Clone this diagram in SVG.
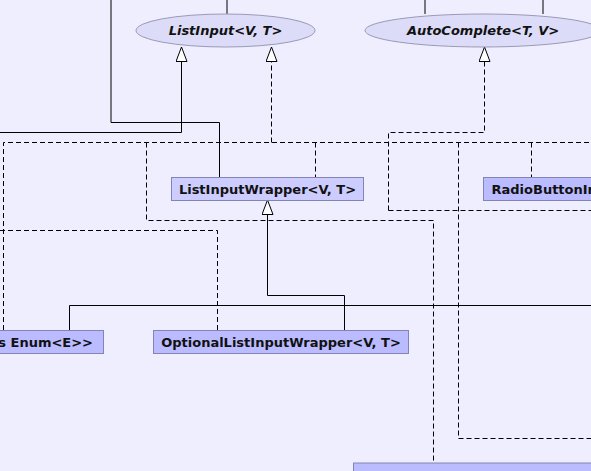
<svg xmlns="http://www.w3.org/2000/svg" width="591" height="471" viewBox="0 0 591 471">
<style>
.bg{fill:#EEEEFF}
.iface ellipse{fill:#DCDCF8;stroke:#9A9AB8;stroke-width:1}
.iface text{font-family:"DejaVu Sans",sans-serif;font-weight:bold;font-style:italic;font-size:13px;fill:#111}
.cls rect{fill:#BBBBFF;stroke:#8484B4;stroke-width:1}
.cls.light rect{fill:#CCCCFF}
.cls text{font-family:"DejaVu Sans",sans-serif;font-weight:bold;font-size:13px;fill:#111}
.solid{fill:none;stroke:#000;stroke-width:1}
.dash{fill:none;stroke:#000;stroke-width:1;stroke-dasharray:5,3}
</style>
<defs>
<marker id="tri" viewBox="0 0 15 12" refX="15" refY="6" markerWidth="15" markerHeight="12" markerUnits="userSpaceOnUse" orient="auto">
<path d="M0.5,0.5 L15,6 L0.5,11.5 z" fill="#fff" stroke="#000" stroke-width="1" stroke-dasharray="none"/>
</marker>
</defs>
<rect class="bg" x="0" y="0" width="591" height="471"/>
<g id="connectors">
<path class="solid" d="M227,0 V14"/>
<path class="solid" d="M425,0 V14"/>
<path class="solid" d="M543,0 V14"/>
<path class="solid" d="M111,0 V122.5 H219.5 V177"/>
<path class="solid" d="M0,132.5 H181.5 V47" marker-end="url(#tri)"/>
<path class="solid" d="M344.5,330 V295.5 H267.5 V200" marker-end="url(#tri)"/>
<path class="solid" d="M69.5,330 V305.5 H591"/>
<path class="dash" d="M3.5,330 V142.5 H591"/>
<path class="dash" d="M271.5,142.5 V47" marker-end="url(#tri)"/>
<path class="dash" d="M146.5,142.5 V220.5 H433.5 V463"/>
<path class="dash" d="M315.5,142.5 V177"/>
<path class="dash" d="M388.5,210.5 V132.5 H484.5 V47" marker-end="url(#tri)"/>
<path class="dash" d="M388.5,210.5 H591"/>
<path class="dash" d="M458.5,142.5 V438.5 H591"/>
<path class="dash" d="M531.5,142.5 V177"/>
<path class="dash" d="M0,230.5 H217.5 V330"/>
</g>
<g id="ListInput" class="iface">
<ellipse cx="225.5" cy="30.5" rx="89.5" ry="16.5"/>
<text x="225.5" y="35" text-anchor="middle">ListInput&lt;V, T&gt;</text>
</g>
<g id="AutoComplete" class="iface">
<ellipse cx="483" cy="30.5" rx="118" ry="16.5"/>
<text x="483" y="35" text-anchor="middle">AutoComplete&lt;T, V&gt;</text>
</g>
<g id="ListInputWrapper" class="cls light">
<rect x="171.5" y="177.5" width="192" height="23"/>
<text x="267.5" y="193.5" text-anchor="middle">ListInputWrapper&lt;V, T&gt;</text>
</g>
<g id="RadioButtonInput" class="cls">
<rect x="483.5" y="177.5" width="130" height="23"/>
<text x="491.5" y="193.5">RadioButtonIn</text>
</g>
<g id="EnumNode" class="cls">
<rect x="-20" y="330.5" width="123.5" height="23"/>
<text x="93" y="346.5" text-anchor="end">s Enum&lt;E&gt;&gt;</text>
</g>
<g id="OptionalListInputWrapper" class="cls">
<rect x="153.5" y="330.5" width="255" height="23"/>
<text x="281" y="346.5" text-anchor="middle">OptionalListInputWrapper&lt;V, T&gt;</text>
</g>
<g id="BottomNode" class="cls">
<rect x="353.5" y="463" width="250" height="30"/>
</g>
</svg>
